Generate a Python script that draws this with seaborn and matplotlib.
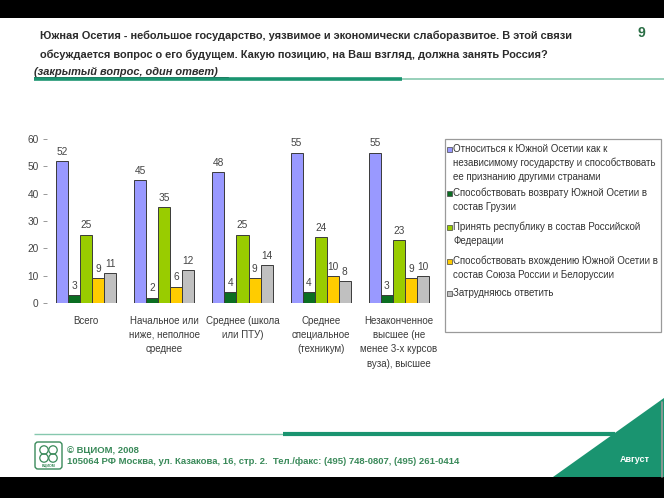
import matplotlib
matplotlib.use("Agg")
import matplotlib.pyplot as plt
from matplotlib.patches import Rectangle, Polygon, FancyBboxPatch, Circle
import seaborn as sns
import pandas as pd

# ---------------- data ----------------
categories = [
    "Всего",
    "Начальное или\nниже, неполное\nсреднее",
    "Среднее (школа\nили ПТУ)",
    "Среднее\nспециальное\n(техникум)",
    "Незаконченное\nвысшее (не\nменее 3-х курсов\nвуза), высшее",
]
options = [
    "Относиться к Южной Осетии как к\nнезависимому государству и способствовать\nее признанию другими странами",
    "Способствовать возврату Южной Осетии в\nсостав Грузии",
    "Принять республику в состав Российской\nФедерации",
    "Способствовать вхождению Южной Осетии в\nсостав Союза России и Белоруссии",
    "Затрудняюсь ответить",
]
v_independent = [52, 45, 48, 55, 55]
v_georgia = [3, 2, 4, 4, 3]
v_russia = [25, 35, 25, 24, 23]
v_union = [9, 6, 9, 10, 9]
v_hard = [11, 12, 14, 8, 10]
y_ticks = [0, 10, 20, 30, 40, 50, 60]

title_lines = [
    "Южная Осетия - небольшое государство, уязвимое и экономически слаборазвитое. В этой связи",
    "обсуждается вопрос о его будущем. Какую позицию, на Ваш взгляд, должна занять Россия?",
]
subtitle = "(закрытый вопрос, один ответ)"
page_no = "9"
copyright_txt = "© ВЦИОМ, 2008"
address_txt = "105064 РФ Москва, ул. Казакова, 16, стр. 2.  Тел./факс: (495) 748-0807, (495) 261-0414"
month_txt = "Август"

colors = ["#9999FF", "#0B6E22", "#99CC00", "#FFCC00", "#C0C0C0"]

series = [v_independent, v_georgia, v_russia, v_union, v_hard]
rows = []
for opt, vals in zip(options, series):
    for cat, v in zip(categories, vals):
        rows.append({"cat": cat, "opt": opt, "val": v})
df = pd.DataFrame(rows)

# ---------------- figure ----------------
sns.set_style("white")
plt.rcParams["font.family"] = ["Liberation Sans", "DejaVu Sans"]

W, H = 664, 498
fig = plt.figure(figsize=(W / 100, H / 100), dpi=100)
fig.patch.set_facecolor("white")

# decoration layer in pixel coordinates
deco = fig.add_axes([0, 0, 1, 1], zorder=0)
deco.set_xlim(0, W)
deco.set_ylim(H, 0)
deco.axis("off")

# black bands
deco.add_patch(Rectangle((0, 0), W, 18, color="black", lw=0))
deco.add_patch(Rectangle((0, 477), W, 21, color="black", lw=0))

dark_green = "#1A9470"
light_green = "#86C8AE"

# title
deco.text(40, 36, title_lines[0], fontsize=7.95, fontweight="bold", color="#2b2b2b", va="center", ha="left")
deco.text(40, 55, title_lines[1], fontsize=7.95, fontweight="bold", color="#2b2b2b", va="center", ha="left")
deco.text(34, 72, subtitle, fontsize=7.95, fontweight="bold", style="italic", color="#2b2b2b", va="center", ha="left")
deco.plot([34, 228], [76.5, 76.5], color="#2b2b2b", lw=0.7)
deco.text(641, 33, page_no, fontsize=10, fontweight="bold", color="#2A6E45", va="center", ha="center")

# title rule
deco.plot([34, 402], [79, 79], color=dark_green, lw=2.6, solid_capstyle="butt")
deco.plot([402, 664], [79, 79], color=light_green, lw=1.2, solid_capstyle="butt")

# footer
deco.plot([34, 283], [434, 434], color=light_green, lw=1.0, solid_capstyle="butt")
deco.plot([283, 615], [434, 434], color=dark_green, lw=3.0, solid_capstyle="butt")
deco.add_patch(Polygon([(553, 477), (664, 398), (664, 477)], closed=True, color=dark_green, lw=0))
deco.plot([661.5, 661.5], [402, 477], color="#9a9a9a", lw=1.2)
deco.text(635, 459, month_txt, fontsize=6.5, fontweight="bold", color="white", va="center", ha="center")

# logo
deco.add_patch(FancyBboxPatch((35, 442), 27, 27, boxstyle="round,pad=0,rounding_size=3",
                              fc="white", ec="#3A8A5A", lw=1.0))
for cx, cy in [(44, 450), (53, 450), (44, 458), (53, 458)]:
    deco.add_patch(Circle((cx, cy), 4.2, fc="none", ec="#3A8A5A", lw=0.9))
deco.text(48.5, 466, "ВЦИОМ", fontsize=2.6, color="#3A8A5A", ha="center", va="center", fontweight="bold")
deco.text(67, 450, copyright_txt, fontsize=6.8, fontweight="bold", color="#3A8A5A", va="center", ha="left")
deco.text(67, 461, address_txt, fontsize=6.8, fontweight="bold", color="#3A8A5A", va="center", ha="left")

# ---------------- chart ----------------
ax = fig.add_axes([47 / W, 1 - 303 / H, (438 - 47) / W, (303 - 139) / H], zorder=1)
ax.set_facecolor("none")
sns.barplot(data=df, x="cat", y="val", hue="opt", hue_order=options, order=categories,
            palette=colors, width=0.77, gap=0, edgecolor="#3a3a3a", linewidth=0.7,
            legend=False, ax=ax, saturation=1)
for cont in ax.containers:
    ax.bar_label(cont, padding=3, fontsize=7.3, color="#444444")

ax.set_ylim(0, 60)
ax.set_xlim(-0.5, len(categories) - 0.5)
ax.set_yticks(y_ticks)
ax.set_yticklabels([str(t) for t in y_ticks])
ax.tick_params(axis="y", length=3, width=0.6, color="#888888", labelsize=7.3, labelcolor="#444444", pad=3, left=True)
ax.tick_params(axis="x", length=0, labelsize=7.0, labelcolor="#3a3a3a", pad=9)
for lbl in ax.get_xticklabels():
    lbl.set_linespacing(1.55)
ax.set_xlabel("")
ax.set_ylabel("")
for s in ax.spines.values():
    s.set_visible(False)

# legend (drawn in pixel space)
deco.add_patch(Rectangle((445, 139), 216, 193, fc="white", ec="#9a9a9a", lw=0.9, zorder=2))
leg_y = [149, 193, 227, 261, 293]
for y, lab, c in zip(leg_y, options, colors):
    deco.add_patch(Rectangle((446.5, y - 2.5), 5, 5, fc=c, ec="#444444", lw=0.5, zorder=3))
    deco.text(453, y - 5, lab, fontsize=7.0, color="#333333", va="top", ha="left",
              linespacing=1.45, zorder=3)

fig.savefig("out.png", dpi=100)
